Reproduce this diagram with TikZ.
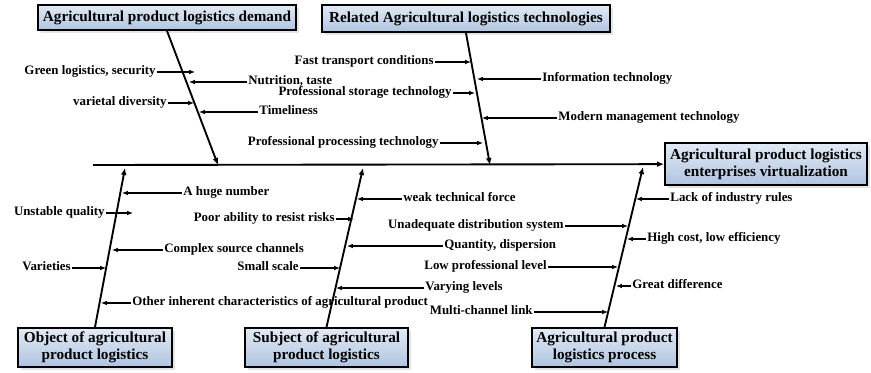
\documentclass[tikz,border=0pt]{standalone}
\usepackage{fontspec}
\setmainfont{Liberation Serif}
\usetikzlibrary{arrows.meta,shadows}
\definecolor{boxtop}{HTML}{E2EAF4}
\definecolor{boxbot}{HTML}{AFC4E0}
\begin{document}
\begin{tikzpicture}[
			x=0.03cm, y=-0.03cm,
			hd/.style={draw=black, line width=1.6pt, top color=boxtop, bottom color=boxbot,
				drop shadow={shadow xshift=2.5pt, shadow yshift=-2.5pt, fill=gray!35, opacity=0.6},
				font=\fontsize{13}{14.5}\selectfont\bfseries, align=center, inner sep=2pt},
			lbl/.style={font=\fontsize{11}{12}\selectfont\bfseries, inner sep=1pt, text height=7pt, text depth=2pt},
			bone/.style={line width=1.6pt, -{Latex[length=6pt,width=5pt]}},
			arr/.style={line width=0.9pt, -{Latex[length=5pt,width=4pt]}}
			]
			\useasboundingbox (0,0) rectangle (871,373);
			% spine and heads
			\node[hd, minimum width=202*0.03cm, minimum height=42*0.03cm] (goal) at (766,164) {Agricultural product logistics\\enterprises virtualization};
			\node[hd, minimum width=258*0.03cm, minimum height=25*0.03cm] (dem) at (167,17.5) {Agricultural product logistics demand};
			\node[hd, minimum width=288*0.03cm, minimum height=27*0.03cm] (tec) at (466,18.5) {Related Agricultural logistics technologies};
			\node[hd, minimum width=154*0.03cm, minimum height=39*0.03cm] (obj) at (95,347.5) {Object of agricultural\\product logistics};
			\node[hd, minimum width=163*0.03cm, minimum height=39*0.03cm] (sub) at (326.5,347.5) {Subject of agricultural\\product logistics};
			\node[hd, minimum width=145*0.03cm, minimum height=39*0.03cm] (pro) at (604.5,347.5) {Agricultural product\\logistics process};
			\coordinate (tail) at (93,165);
			\draw[bone] (tail) -- (goal);
			\coordinate (s1) at (218,165); \coordinate (s2) at (490,165);
			\coordinate (s3) at (125,168); \coordinate (s4) at (363,168); \coordinate (s5) at (643,167);
			\draw[bone] (dem.south) -- (s1); \draw[bone] (tec.south) -- (s2);
			\draw[bone] (obj.north) -- (s3); \draw[bone] (sub.north) -- (s4); \draw[bone] (pro.north) -- (s5);
			% demand
			\node[lbl, anchor=east] (d1) at (157,72) {Green logistics, security}; \coordinate (d1t) at (195,72); \draw[arr] (d1) -- (d1t);
			\node[lbl, anchor=east] (d2) at (168,103) {varietal diversity}; \coordinate (d2t) at (194,103); \draw[arr] (d2) -- (d2t);
			\node[lbl, anchor=west] (d3) at (247,82) {Nutrition, taste}; \coordinate (d3t) at (189,82); \draw[arr] (d3) -- (d3t);
			\node[lbl, anchor=west] (d4) at (258,112) {Timeliness}; \coordinate (d4t) at (199,112); \draw[arr] (d4) -- (d4t);
			% technologies
			\node[lbl, anchor=east] (t1) at (435,62) {Fast transport conditions}; \coordinate (t1t) at (471,62); \draw[arr] (t1) -- (t1t);
			\node[lbl, anchor=east] (t2) at (453,93) {Professional storage technology}; \coordinate (t2t) at (475,93); \draw[arr] (t2) -- (t2t);
			\node[lbl, anchor=east] (t3) at (440,143) {Professional processing technology}; \coordinate (t3t) at (483,143); \draw[arr] (t3) -- (t3t);
			\node[lbl, anchor=west] (t4) at (541,79) {Information technology}; \coordinate (t4t) at (477,79); \draw[arr] (t4) -- (t4t);
			\node[lbl, anchor=west] (t5) at (557,118) {Modern management technology}; \coordinate (t5t) at (482,118); \draw[arr] (t5) -- (t5t);
			% object
			\node[lbl, anchor=west] (o1) at (182,193) {A huge number}; \coordinate (o1t) at (122,193); \draw[arr] (o1) -- (o1t);
			\node[lbl, anchor=east] (o2) at (106,213) {Unstable quality}; \coordinate (o2t) at (133,213); \draw[arr] (o2) -- (o2t);
			\node[lbl, anchor=west] (o3) at (163,250) {Complex source channels}; \coordinate (o3t) at (112,250); \draw[arr] (o3) -- (o3t);
			\node[lbl, anchor=east] (o4) at (72,268) {Varieties}; \coordinate (o4t) at (106,268); \draw[arr] (o4) -- (o4t);
			\node[lbl, anchor=west] (o5) at (131,303) {Other inherent characteristics of agricultural product}; \coordinate (o5t) at (101,303); \draw[arr] (o5) -- (o5t);
			% subject
			\node[lbl, anchor=west] (u1) at (402,199) {weak technical force}; \coordinate (u1t) at (357,199); \draw[arr] (u1) -- (u1t);
			\node[lbl, anchor=east] (u2) at (336,219) {Poor ability to resist risks}; \coordinate (u2t) at (354,219); \draw[arr] (u2) -- (u2t);
			\node[lbl, anchor=west] (u3) at (443,246) {Quantity, dispersion}; \coordinate (u3t) at (347,246); \draw[arr] (u3) -- (u3t);
			\node[lbl, anchor=east] (u4) at (300,268) {Small scale}; \coordinate (u4t) at (340,268); \draw[arr] (u4) -- (u4t);
			\node[lbl, anchor=west] (u5) at (424,288) {Varying levels}; \coordinate (u5t) at (336,288); \draw[arr] (u5) -- (u5t);
			% process
			\node[lbl, anchor=east] (p1) at (565,226) {Unadequate distribution system}; \coordinate (p1t) at (628,226); \draw[arr] (p1) -- (p1t);
			\node[lbl, anchor=east] (p2) at (548,267) {Low professional level}; \coordinate (p2t) at (618,267); \draw[arr] (p2) -- (p2t);
			\node[lbl, anchor=east] (p3) at (534,312) {Multi-channel link}; \coordinate (p3t) at (608,312); \draw[arr] (p3) -- (p3t);
			\node[lbl, anchor=west] (p4) at (669,199) {Lack of industry rules}; \coordinate (p4t) at (636,199); \draw[arr] (p4) -- (p4t);
			\node[lbl, anchor=west] (p5) at (646,239) {High cost, low efficiency}; \coordinate (p5t) at (627,239); \draw[arr] (p5) -- (p5t);
			\node[lbl, anchor=west] (p6) at (631,286) {Great difference}; \coordinate (p6t) at (616,286); \draw[arr] (p6) -- (p6t);
		\end{tikzpicture}
\end{document}
